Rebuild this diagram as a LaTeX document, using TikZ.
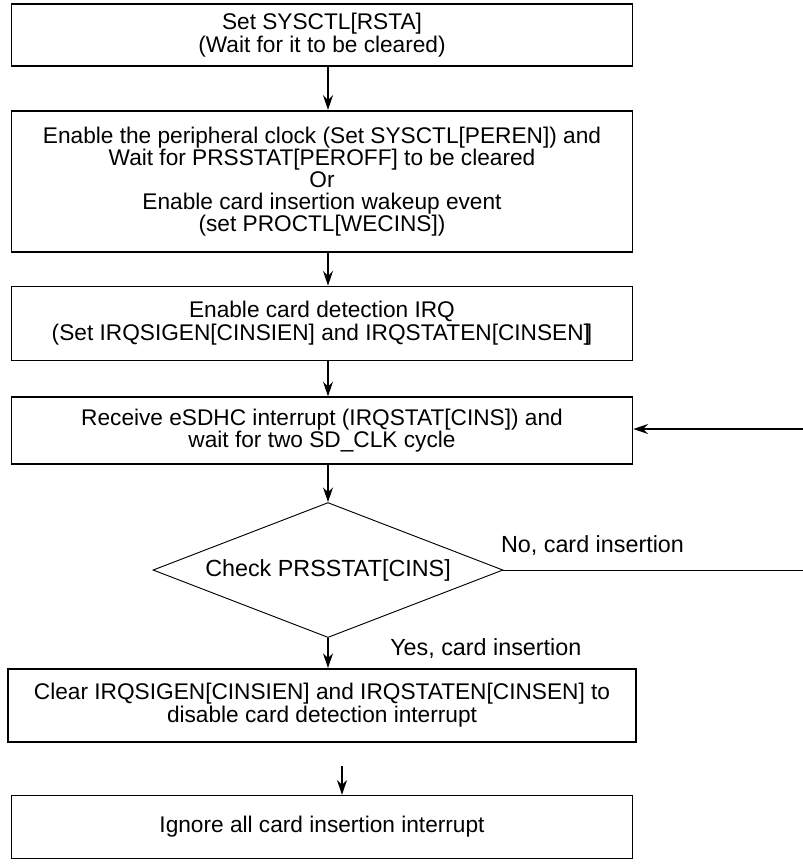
\documentclass[tikz,border=0pt]{standalone}
\usepackage{fontspec}
\setmainfont{Liberation Sans}
\usetikzlibrary{arrows.meta,positioning,shapes.geometric}

\begin{document}
\begin{tikzpicture}[x=0.75pt, y=-0.75pt,
  box/.style={draw, line width=1.3pt, align=center, inner sep=0pt, minimum width=465.75pt, font=\fontsize{17}{17}\selectfont},
  check/.style={draw, diamond, aspect=2.6, line width=0.7pt, inner sep=0pt, minimum width=262.5pt, minimum height=101.25pt, font=\fontsize{17.5}{17}\selectfont},
  lbl/.style={inner sep=0pt, font=\fontsize{17.5}{17}\selectfont},
  arr/.style={-{Stealth[length=11pt,width=7.5pt]}, line width=1.1pt}
]
\useasboundingbox (0,0) rectangle (803,864);
\node[box, minimum height=46.5pt] (rsta) at (322,35) {Set SYSCTL[RSTA]\\(Wait for it to be cleared)};
\node[box, minimum height=105.75pt, below=32.25pt of rsta, font=\fontsize{17}{16.5}\selectfont] (clk) {Enable the peripheral clock (Set SYSCTL[PEREN]) and\\Wait for PRSSTAT[PEROFF] to be cleared\\Or\\Enable card insertion wakeup event\\(set PROCTL[WECINS])};
\node[box, minimum height=55.5pt, below=24.75pt of clk] (irq) {Enable card detection IRQ\\(Set IRQSIGEN[CINSIEN] and IRQSTATEN[CINSEN]\kern-3pt]};
\node[box, minimum height=50.25pt, below=26.25pt of irq] (intr) {Receive eSDHC interrupt (IRQSTAT[CINS]) and\\wait for two SD\_CLK cycle};
\node[check, below=27.75pt of intr, xshift=4.5pt] (chk) {Check PRSSTAT[CINS]};
\node[box, minimum width=471pt, minimum height=54.75pt, below=22.5pt of chk, xshift=-4.5pt] (clr) {Clear IRQSIGEN[CINSIEN] and IRQSTATEN[CINSEN] to\\disable card detection interrupt};
\node[box, minimum height=47.25pt, below=39pt of clr] (ign) {Ignore all card insertion interrupt};
\node[lbl, above right=11pt and -2pt of chk.east] (no) {No, card insertion};
\node[lbl, below right=0pt and 46.5pt of chk.south] (yes) {Yes, card insertion};
% loose ends at the right edge and above the last box
\coordinate (noend) at (803,571);
\coordinate (back) at (803,429);
\coordinate (last) at (342,766);
\draw[arr] (chk.north |- rsta.south) -- (chk.north |- clk.north);
\draw[arr] (chk.north |- clk.south) -- (chk.north |- irq.north);
\draw[arr] (chk.north |- irq.south) -- (chk.north |- intr.north);
\draw[arr] (chk.north |- intr.south) -- (chk.north);
\draw[arr] (chk.south) -- (chk.south |- clr.north);
\draw (chk.east) -- (chk.east -| noend);
\draw[arr] (back) -- (back -| intr.east);
\draw[arr] (last) -- (last |- ign.north);
\end{tikzpicture}
\end{document}
